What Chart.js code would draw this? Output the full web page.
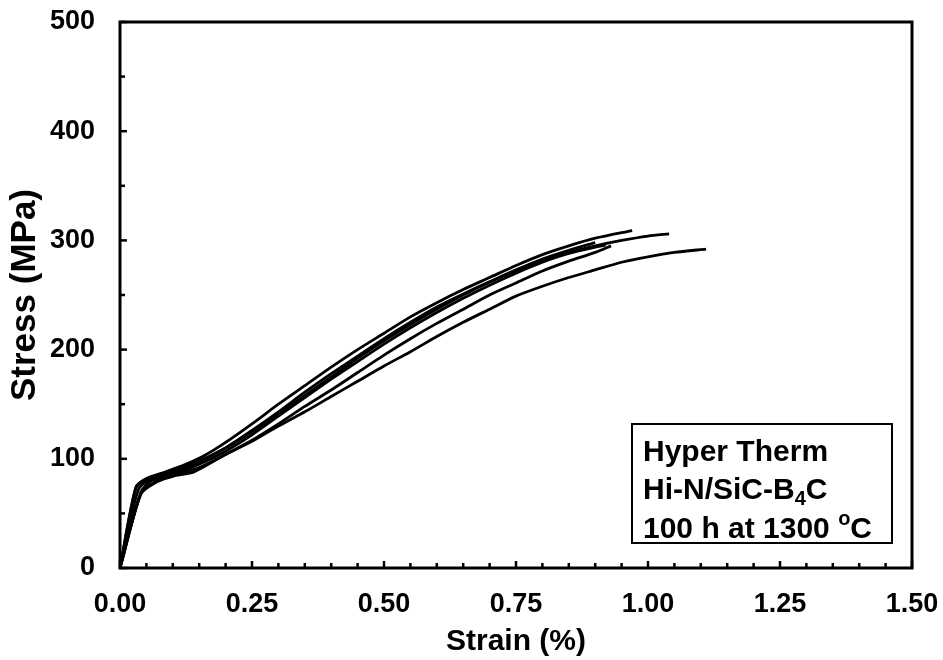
<!DOCTYPE html>
<html>
<head>
<meta charset="utf-8">
<script src="https://cdn.jsdelivr.net/npm/chart.js@4"></script>
<style>
  body { margin: 0; background: #fff; }
  #wrap { width: 943px; height: 660px; }
</style>
</head>
<body>
<div id="wrap"><canvas id="chart"></canvas></div>
<script>
// tick labels
const xTicks = [0, 0.25, 0.5, 0.75, 1.0, 1.25, 1.5];
const yTicks = [0, 100, 200, 300, 400, 500];

// six specimens, strain (%) and stress (MPa)
const strain1 = [0, 0.03, 0.05, 0.08, 0.12, 0.16, 0.2, 0.25, 0.3, 0.35, 0.4, 0.45, 0.5, 0.55, 0.6, 0.65, 0.7, 0.75, 0.8, 0.85, 0.9, 0.97];
const stress1 = [0, 74, 82, 87, 94, 103, 115, 132, 150, 167, 184, 200, 215, 230, 243, 255, 266, 277, 287, 295, 302, 309];

const strain2 = [0, 0.035, 0.06, 0.1, 0.15, 0.2, 0.25, 0.3, 0.35, 0.4, 0.45, 0.5, 0.55, 0.6, 0.65, 0.7, 0.75, 0.8, 0.85, 0.9, 0.95, 1.0, 1.04];
const stress2 = [0, 72, 82, 88, 97, 110, 126, 143, 161, 178, 194, 210, 225, 239, 251, 262, 272, 281, 289, 295, 300, 304, 306];

const strain3 = [0, 0.04, 0.06, 0.1, 0.15, 0.2, 0.25, 0.3, 0.35, 0.4, 0.45, 0.5, 0.55, 0.6, 0.65, 0.7, 0.75, 0.8, 0.85, 0.92];
const stress3 = [0, 70, 80, 86, 95, 107, 122, 139, 156, 173, 189, 205, 220, 234, 247, 259, 270, 280, 288, 296];

const strain4 = [0, 0.03, 0.05, 0.09, 0.14, 0.2, 0.25, 0.3, 0.35, 0.4, 0.45, 0.5, 0.55, 0.6, 0.65, 0.7, 0.75, 0.8, 0.85, 0.9];
const stress4 = [0, 73, 81, 88, 96, 110, 125, 141, 158, 175, 192, 208, 223, 237, 250, 262, 273, 283, 291, 298];

const strain5 = [0, 0.04, 0.07, 0.1, 0.14, 0.2, 0.25, 0.3, 0.35, 0.4, 0.45, 0.5, 0.55, 0.6, 0.65, 0.7, 0.75, 0.8, 0.85, 0.9, 0.93];
const stress5 = [0, 68, 79, 84, 88, 104, 117, 132, 148, 163, 179, 195, 210, 224, 237, 250, 261, 272, 281, 289, 295];

const strain6 = [0, 0.04, 0.07, 0.1, 0.15, 0.2, 0.25, 0.3, 0.35, 0.4, 0.45, 0.5, 0.55, 0.6, 0.65, 0.7, 0.75, 0.8, 0.85, 0.9, 0.95, 1.0, 1.05, 1.11];
const stress6 = [0, 69, 80, 85, 92, 104, 116, 130, 143, 157, 171, 185, 198, 212, 225, 237, 249, 258, 266, 273, 280, 285, 289, 292];

const FONT = "'Liberation Sans', Arial, sans-serif";

function makeSet(xs, ys) {
    return {
        data: xs.map((x, i) => ({ x: x, y: ys[i] })),
        showLine: true,
        borderColor: '#000',
        borderWidth: 2.8,
        pointRadius: 0,
        tension: 0.25,
        fill: false
    };
}

// frame, inward tick marks and the label box
const framePlugin = {
    id: 'frame',
    afterDraw(chart) {
        const ctx = chart.ctx;
        const { left, top, right, bottom } = chart.chartArea;
        const x = chart.scales.x, y = chart.scales.y;
        ctx.save();
        ctx.strokeStyle = '#000';
        ctx.lineWidth = 3;
        ctx.strokeRect(left, top, right - left, bottom - top);

        ctx.lineWidth = 2.5;
        for (let i = 0; i <= 30; i++) {
            const px = x.getPixelForValue(i * 0.05);
            const len = i % 5 === 0 ? 7 : 5;
            ctx.beginPath(); ctx.moveTo(px, bottom); ctx.lineTo(px, bottom - len); ctx.stroke();
        }
        for (let i = 0; i <= 10; i++) {
            const py = y.getPixelForValue(i * 50);
            const len = i % 2 === 0 ? 7 : 5;
            ctx.beginPath(); ctx.moveTo(left, py); ctx.lineTo(left + len, py); ctx.stroke();
        }

        // legend box
        const bx = right - 280, by = bottom - 144, bw = 260, bh = 119;
        ctx.fillStyle = '#fff';
        ctx.fillRect(bx, by, bw, bh);
        ctx.lineWidth = 2;
        ctx.strokeRect(bx, by, bw, bh);
        ctx.fillStyle = '#000';
        ctx.textBaseline = 'alphabetic';
        ctx.textAlign = 'left';
        const big = 'bold 30px ' + FONT, small = 'bold 20px ' + FONT;
        const tx = bx + 11;
        ctx.font = big;
        ctx.fillText('Hyper Therm', tx, by + 37);
        let s = 'Hi-N/SiC-B';
        ctx.fillText(s, tx, by + 75);
        let w = ctx.measureText(s).width;
        ctx.font = small;
        ctx.fillText('4', tx + w, by + 81);
        w += ctx.measureText('4').width;
        ctx.font = big;
        ctx.fillText('C', tx + w, by + 75);
        s = '100 h at 1300 ';
        ctx.fillText(s, tx, by + 114);
        w = ctx.measureText(s).width;
        ctx.font = small;
        ctx.fillText('o', tx + w, by + 101);
        w += ctx.measureText('o').width;
        ctx.font = big;
        ctx.fillText('C', tx + w, by + 114);
        ctx.restore();
    }
};

const config = {
    type: 'scatter',
    data: {
        datasets: [
            makeSet(strain1, stress1),
            makeSet(strain2, stress2),
            makeSet(strain3, stress3),
            makeSet(strain4, stress4),
            makeSet(strain5, stress5),
            makeSet(strain6, stress6)
        ]
    },
    options: {
        responsive: true,
        maintainAspectRatio: false,
        animation: false,
        layout: { padding: { top: 22, right: 31, left: 0, bottom: 0 } },
        plugins: { legend: { display: false }, tooltip: { enabled: false } },
        scales: {
            x: {
                type: 'linear',
                min: 0,
                max: 1.5,
                afterBuildTicks: (scale) => { scale.ticks = xTicks.map(v => ({ value: v })); },
                afterFit: (scale) => {
                    scale.height = 92;
                    scale.paddingLeft = 0;
                    scale.paddingRight = 0;
                },
                ticks: {
                    color: '#000',
                    padding: 20,
                    maxRotation: 0,
                    font: { family: FONT, size: 27, weight: 'bold' },
                    callback: (v) => Number(v).toFixed(2)
                },
                grid: { display: false, drawTicks: false },
                border: { display: false },
                title: {
                    display: true,
                    text: 'Strain (%)',
                    color: '#000',
                    font: { family: FONT, size: 30, weight: 'bold' },
                    padding: { top: 0, bottom: 0 }
                }
            },
            y: {
                type: 'linear',
                min: 0,
                max: 500,
                afterBuildTicks: (scale) => { scale.ticks = yTicks.map(v => ({ value: v })); },
                afterFit: (scale) => {
                    scale.width = 120;
                    scale.paddingTop = 0;
                    scale.paddingBottom = 0;
                },
                ticks: {
                    color: '#000',
                    padding: 25,
                    font: { family: FONT, size: 27, weight: 'bold' }
                },
                grid: { display: false, drawTicks: false },
                border: { display: false },
                title: {
                    display: true,
                    text: 'Stress (MPa)',
                    color: '#000',
                    font: { family: FONT, size: 35, weight: 'bold' },
                    padding: { top: 4, bottom: 0 }
                }
            }
        }
    },
    plugins: [framePlugin]
};

new Chart(document.getElementById('chart'), config);
</script>
</body>
</html>
